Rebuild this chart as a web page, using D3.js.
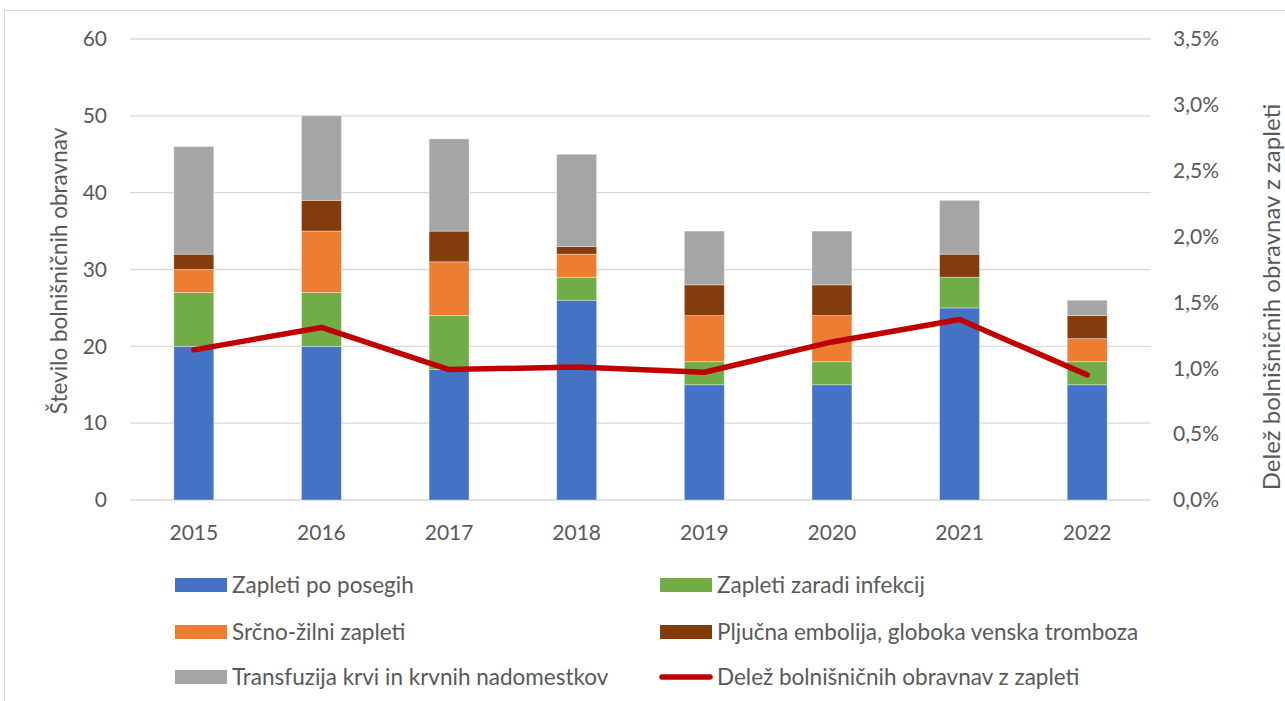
<!DOCTYPE html>
<html>
<head>
<meta charset="utf-8">
<script src="https://cdn.jsdelivr.net/npm/d3@7/dist/d3.min.js"></script>
<style>
  html, body { margin: 0; padding: 0; background: #fff; }
  svg { display: block; }
  text { font-family: Lato, "Open Sans", sans-serif; fill: #595959; }
</style>
</head>
<body>
<svg id="chart" width="1285" height="701"></svg>
<script>
// Years on the x axis
const years = ["2015", "2016", "2017", "2018", "2019", "2020", "2021", "2022"];

// Number of hospital treatments by type of complication
const zapletiPoPosegih   = [20, 20, 17, 26, 15, 15, 25, 15];
const zapletiInfekcije   = [7, 7, 7, 3, 3, 3, 4, 3];
const srcnoZilni         = [3, 8, 7, 3, 6, 6, 0, 3];
const pljucnaEmbolija    = [2, 4, 4, 1, 4, 4, 3, 3];
const transfuzija        = [14, 11, 12, 12, 7, 7, 7, 2];

// Share of hospital treatments with complications (%)
const delezZapleti = [1.14, 1.31, 0.99, 1.01, 0.97, 1.2, 1.37, 0.95];

// Axis ticks
const leftTicks  = [0, 10, 20, 30, 40, 50, 60];
const rightTicks = [0, 0.5, 1.0, 1.5, 2.0, 2.5, 3.0, 3.5];

const seriesNames = [
  "Zapleti po posegih",
  "Zapleti zaradi infekcij",
  "Srčno-žilni zapleti",
  "Pljučna embolija, globoka venska tromboza",
  "Transfuzija krvi in krvnih nadomestkov"
];
const seriesValues = [zapletiPoPosegih, zapletiInfekcije, srcnoZilni, pljucnaEmbolija, transfuzija];
const seriesColors = ["#4472C4", "#70AD47", "#ED7D31", "#843C0C", "#A5A5A5"];
const lineName = "Delež bolnišničnih obravnav z zapleti";
const lineColor = "#C00000";

const svg = d3.select("#chart");

// Chart frame
svg.append("rect")
  .attr("x", 4.5).attr("y", 10.5)
  .attr("width", 1290).attr("height", 700)
  .attr("fill", "none").attr("stroke", "#D9D9D9").attr("stroke-width", 1);

const plot = { left: 130, right: 1151, top: 39, bottom: 500 };

const x = d3.scaleBand()
  .domain(years)
  .range([plot.left, plot.right])
  .paddingInner(0.687)
  .paddingOuter(0.3435);

const yLeft = d3.scaleLinear().domain([0, 60]).range([plot.bottom, plot.top]);
const yRight = d3.scaleLinear().domain([0, 3.5]).range([plot.bottom, plot.top]);

// Gridlines
svg.append("g")
  .selectAll("line")
  .data(leftTicks)
  .join("line")
  .attr("x1", plot.left).attr("x2", plot.right)
  .attr("y1", d => yLeft(d)).attr("y2", d => yLeft(d))
  .attr("stroke", "#D9D9D9").attr("stroke-width", 1.3);

// Stacked bars
const table = years.map((yr, i) => {
  const row = { year: yr };
  seriesNames.forEach((n, k) => row[n] = seriesValues[k][i]);
  return row;
});
const stacked = d3.stack().keys(seriesNames)(table);

svg.append("g")
  .selectAll("g")
  .data(stacked)
  .join("g")
  .attr("fill", (d, i) => seriesColors[i])
  .selectAll("rect")
  .data(d => d.filter(s => s[1] - s[0] > 0))
  .join("rect")
  .attr("x", d => x(d.data.year))
  .attr("width", x.bandwidth())
  .attr("y", d => yLeft(d[1]))
  .attr("height", d => yLeft(d[0]) - yLeft(d[1]))
  .attr("stroke", "#ffffff").attr("stroke-opacity", 0.45).attr("stroke-width", 0.8);

// Share line on the secondary axis
const line = d3.line()
  .x((d, i) => x(years[i]) + x.bandwidth() / 2)
  .y(d => yRight(d));

svg.append("path")
  .datum(delezZapleti)
  .attr("d", line)
  .attr("fill", "none")
  .attr("stroke", lineColor)
  .attr("stroke-width", 5.5)
  .attr("stroke-linejoin", "round")
  .attr("stroke-linecap", "round");

const tickFont = "21px";

// Left axis
const leftAxis = d3.axisLeft(yLeft).tickValues(leftTicks).tickSize(0).tickPadding(0);
const gL = svg.append("g").attr("transform", `translate(107,0)`).call(leftAxis);
gL.select(".domain").remove();
gL.selectAll("text").style("font-size", tickFont).attr("fill", "#595959")
  .style("font-family", "Lato, 'Open Sans', sans-serif");

// Right axis
const fmtPct = d => d3.format(".1f")(d).replace(".", ",") + "%";
const rightAxis = d3.axisRight(yRight).tickValues(rightTicks).tickFormat(fmtPct).tickSize(0).tickPadding(0);
const gR = svg.append("g").attr("transform", `translate(1173,0)`).call(rightAxis);
gR.select(".domain").remove();
gR.selectAll("text").style("font-size", tickFont).attr("fill", "#595959")
  .style("font-family", "Lato, 'Open Sans', sans-serif");

// Bottom axis
const bottomAxis = d3.axisBottom(x).tickSize(0).tickPadding(0);
const gB = svg.append("g").attr("transform", `translate(0,${plot.bottom + 25})`).call(bottomAxis);
gB.select(".domain").remove();
gB.selectAll("text").style("font-size", tickFont).attr("fill", "#595959")
  .style("font-family", "Lato, 'Open Sans', sans-serif");

// Axis titles
svg.append("text")
  .attr("transform", `translate(67,271) rotate(-90)`)
  .attr("text-anchor", "middle")
  .style("font-size", "22.5px")
  .text("Število bolnišničnih obravnav");

svg.append("text")
  .attr("transform", `translate(1280,297) rotate(-90)`)
  .attr("text-anchor", "middle")
  .style("font-size", "24px")
  .text(lineName);

// Legend
const legendItems = [
  { name: seriesNames[0], color: seriesColors[0], type: "rect", col: 0, row: 0 },
  { name: seriesNames[1], color: seriesColors[1], type: "rect", col: 1, row: 0 },
  { name: seriesNames[2], color: seriesColors[2], type: "rect", col: 0, row: 1 },
  { name: seriesNames[3], color: seriesColors[3], type: "rect", col: 1, row: 1 },
  { name: seriesNames[4], color: seriesColors[4], type: "rect", col: 0, row: 2 },
  { name: lineName, color: lineColor, type: "line", col: 1, row: 2 }
];
const colX = [175, 660];
const rowY = [585, 632, 677];

const lg = svg.append("g")
  .selectAll("g")
  .data(legendItems)
  .join("g")
  .attr("transform", d => `translate(${colX[d.col]},${rowY[d.row]})`);

lg.filter(d => d.type === "rect").append("rect")
  .attr("x", 0).attr("y", -7).attr("width", 52).attr("height", 14)
  .attr("fill", d => d.color);

lg.filter(d => d.type === "line").append("line")
  .attr("x1", 2).attr("x2", 50).attr("y1", 0).attr("y2", 0)
  .attr("stroke", d => d.color).attr("stroke-width", 5.5).attr("stroke-linecap", "round");

lg.append("text")
  .attr("x", 57).attr("y", 0).attr("dy", "0.35em")
  .style("font-size", "22.5px")
  .text(d => d.name);
</script>
</body>
</html>
